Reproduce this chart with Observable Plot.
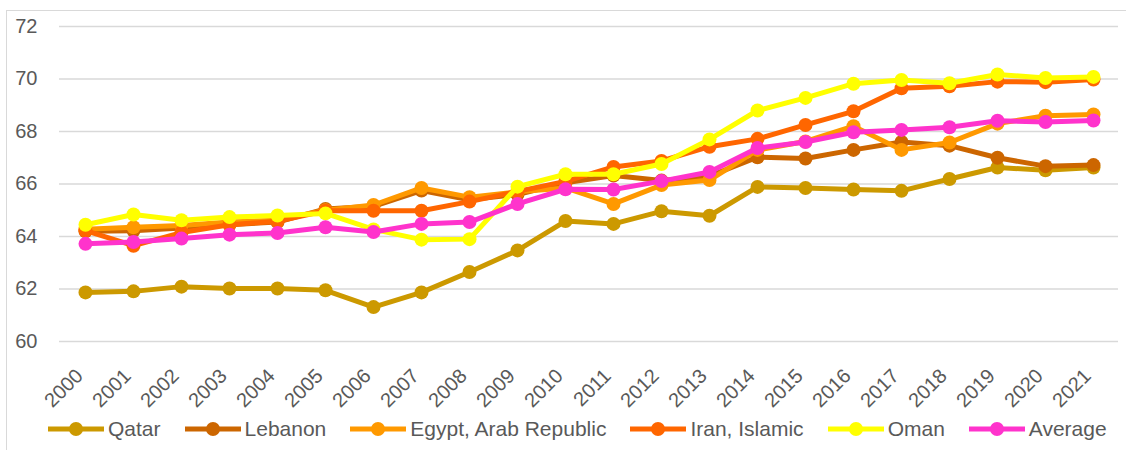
<!DOCTYPE html>
<html>
<head>
<meta charset="utf-8">
<script src="https://cdn.jsdelivr.net/npm/d3@7"></script>
<script src="https://cdn.jsdelivr.net/npm/@observablehq/plot@0.6"></script>
<style>
  html, body { margin: 0; padding: 0; background: #fff; }
  body { width: 1126px; height: 450px; position: relative; overflow: hidden; font-family: "Liberation Sans", Arial, sans-serif; }
  #frame { position: absolute; left: 6px; top: 10px; width: 1140px; height: 460px; border: 1px solid #d9d9d9; box-sizing: border-box; }
  #chart { position: absolute; left: 0; top: 0; }
  #legend { position: absolute; left: 48px; top: 417px; display: flex; align-items: center; gap: 24px; font-size: 21px; color: #595959; white-space: nowrap; }
  .item { display: flex; align-items: center; gap: 4px; }
</style>
</head>
<body>
<div id="frame"></div>
<div id="chart"></div>
<div id="legend"></div>
<script>
const years = ["2000","2001","2002","2003","2004","2005","2006","2007","2008","2009","2010","2011","2012","2013","2014","2015","2016","2017","2018","2019","2020","2021"];
const seriesNames = ["Qatar", "Lebanon", "Egypt, Arab Republic", "Iran, Islamic", "Oman", "Average"];
const seriesColors = ["#CC9900", "#CC6600", "#FF9900", "#FF6600", "#FFFF00", "#FF33CC"];
const qatar   = [61.87, 61.91, 62.09, 62.02, 62.02, 61.95, 61.31, 61.87, 62.65, 63.47, 64.59, 64.48, 64.96, 64.79, 65.89, 65.85, 65.79, 65.74, 66.19, 66.63, 66.52, 66.63];
const lebanon = [64.20, 64.22, 64.32, 64.45, 64.55, 65.05, 65.15, 65.75, 65.40, 65.60, 66.05, 66.32, 66.13, 66.30, 67.02, 66.97, 67.30, 67.60, 67.46, 67.00, 66.68, 66.72];
const egypt   = [64.28, 64.35, 64.42, 64.55, 64.62, 65.00, 65.20, 65.85, 65.50, 65.70, 65.85, 65.24, 65.96, 66.15, 67.30, 67.62, 68.20, 67.30, 67.58, 68.30, 68.60, 68.65];
const iran    = [64.22, 63.65, 64.15, 64.45, 64.58, 64.98, 64.98, 64.98, 65.33, 65.72, 66.10, 66.65, 66.88, 67.42, 67.72, 68.25, 68.77, 69.65, 69.72, 69.90, 69.88, 69.98];
const oman    = [64.45, 64.84, 64.62, 64.74, 64.80, 64.88, 64.27, 63.88, 63.90, 65.90, 66.37, 66.37, 66.76, 67.70, 68.80, 69.28, 69.82, 69.96, 69.84, 70.17, 70.04, 70.08];
const average = [63.72, 63.79, 63.92, 64.07, 64.13, 64.35, 64.17, 64.48, 64.55, 65.24, 65.80, 65.79, 66.11, 66.46, 67.37, 67.60, 67.97, 68.06, 68.16, 68.41, 68.36, 68.42];
const yTicks = [60, 62, 64, 66, 68, 70, 72];

const seriesValues = [qatar, lebanon, egypt, iran, oman, average];

const marks = [Plot.gridY(yTicks, {stroke: "#d9d9d9", strokeWidth: 1.5, strokeOpacity: 1})];
seriesValues.forEach((vals, i) => {
  const rows = years.map((y, j) => ({year: y, value: vals[j]}));
  marks.push(Plot.line(rows, {x: "year", y: "value", stroke: seriesColors[i], strokeWidth: 5, strokeLinejoin: "round"}));
  marks.push(Plot.dot(rows, {x: "year", y: "value", r: 7, fill: seriesColors[i], stroke: "none"}));
});
marks.push(Plot.axisX({tickRotate: -45, tickSize: 0, tickPadding: 31, dx: -6, fontSize: 20, fill: "#595959"}));
marks.push(Plot.axisY(yTicks, {tickSize: 0, tickPadding: 22, fontSize: 20, fill: "#595959"}));

const chart = Plot.plot({
  width: 1126,
  height: 410,
  marginTop: 26,
  marginBottom: 69,
  marginLeft: 59,
  marginRight: 8,
  style: {fontFamily: "'Liberation Sans', Arial, sans-serif", background: "transparent", overflow: "visible"},
  x: {type: "point", domain: years, padding: 0.5, label: null},
  y: {domain: [60, 72], label: null},
  marks
});
document.getElementById("chart").appendChild(chart);

const legend = document.getElementById("legend");
seriesNames.forEach((name, i) => {
  const item = document.createElement("div");
  item.className = "item";
  item.innerHTML = `<svg width="56" height="16"><line x1="0" y1="8" x2="56" y2="8" stroke="${seriesColors[i]}" stroke-width="5"/><circle cx="28" cy="8" r="7" fill="${seriesColors[i]}"/></svg><span>${name}</span>`;
  legend.appendChild(item);
});
</script>
</body>
</html>
